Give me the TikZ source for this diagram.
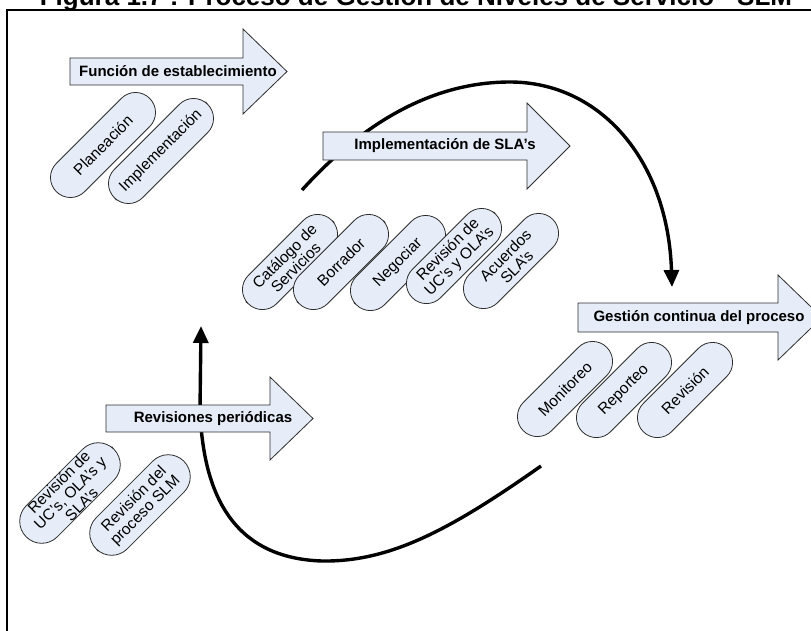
\documentclass[tikz,border=0pt]{standalone}
\usepackage{fontspec}
\setmainfont{Liberation Sans}
\usetikzlibrary{arrows.meta}
\definecolor{boxfill}{RGB}{230,236,248}
\definecolor{edgegray}{RGB}{45,45,45}

% block arrow: left x, head base x, tip x, centre y, body half height, head half height
\newcommand\bannershape[6]{%
  \draw[bannerbody] (#1,#4-#5) -- (#2,#4-#5) -- (#2,#4-#6) -- (#3,#4)
    -- (#2,#4+#6) -- (#2,#4+#5) -- (#1,#4+#5) -- cycle;}

\begin{document}
\begin{tikzpicture}[x=1pt,y=-1pt,
  pill/.style={draw=edgegray, line width=0.8pt, fill=boxfill,
    rounded corners=20pt, minimum width=118pt, minimum height=40pt,
    inner sep=0pt, align=center, rotate=45,
    font=\fontsize{15.5}{16}\selectfont},
  longpill/.style={pill, minimum width=132pt},
  widepill/.style={pill, minimum width=124pt, minimum height=44pt, rounded corners=22pt},
  bannertext/.style={font=\bfseries\fontsize{15}{17}\selectfont, inner sep=0pt},
  bannerbody/.style={draw=edgegray, line width=0.8pt, fill=boxfill},
  flow/.style={line width=3.4pt, -{Triangle[length=17pt,width=15pt]}}
]
\useasboundingbox (0,0) rectangle (811,630);

% caption (partly above the page) and frame
\node[anchor=base, inner sep=0pt, font=\bfseries\fontsize{26}{28}\selectfont] (title) at (416,5)
  {Figura 1.7 : Proceso de Gestión de Niveles de Servicio - SLM};
\draw[line width=2pt] (900,10) -- (7,10) -- (7,700);

% cycle connectors
\coordinate (a0) at (302,190);
\coordinate (atop) at (510,82);
\coordinate (a1) at (672,287);
\draw[flow] (a0) .. controls (370,115) and (440,82) .. (atop)
  .. controls (600,82) and (668,160) .. (a1);

\coordinate (b0) at (541,466);
\coordinate (bbot) at (322,561);
\coordinate (bmid) at (200,410);
\coordinate (b1) at (201,326);
\draw[flow] (b0) .. controls (450,530) and (390,562) .. (bbot)
  .. controls (230,558) and (203,490) .. (bmid) -- (b1);

% phase banners
\bannershape{70}{243}{287}{71.5}{13.5}{42.5}
\node[bannertext] (f1) at (178,71.5) {Función de establecimiento};

\bannershape{323}{527}{570}{146}{14}{43}
\node[bannertext] (f2) at (445,146) {Implementación de SLA’s};

\bannershape{578}{778}{822}{317.5}{14.5}{42.5}
\node[bannertext] (f3) at (699,317.5) {Gestión continua del proceso};

\bannershape{106}{270}{313}{418.5}{13.5}{41.5}
\node[bannertext] (f4) at (213,418.5) {Revisiones periódicas};

% activities of each phase
\node[longpill] (p11) at (103,145) {Planeación};
\node[longpill] (p12) at (161,151) {Implementación};

\node[pill] (p21) at (290,262) {Catálogo de\\Servicios};
\node[pill] (p22) at (341,262) {Borrador};
\node[pill] (p23) at (398,263) {Negociar};
\node[pill] (p24) at (454,256) {Revisión de\\UC’s y OLA’s};
\node[pill] (p25) at (511,261) {Acuerdos\\SLA’s};

\node[pill] (p31) at (565,389) {Monitoreo};
\node[pill] (p32) at (624,390) {Reporteo};
\node[pill] (p33) at (685,390) {Revisión};

\node[widepill] (p41) at (70,493) {Revisión de\\UC’s, OLA’s y\\SLA’s};
\node[widepill] (p42) at (140,505) {Revisión del\\proceso SLM};
\end{tikzpicture}
\end{document}
